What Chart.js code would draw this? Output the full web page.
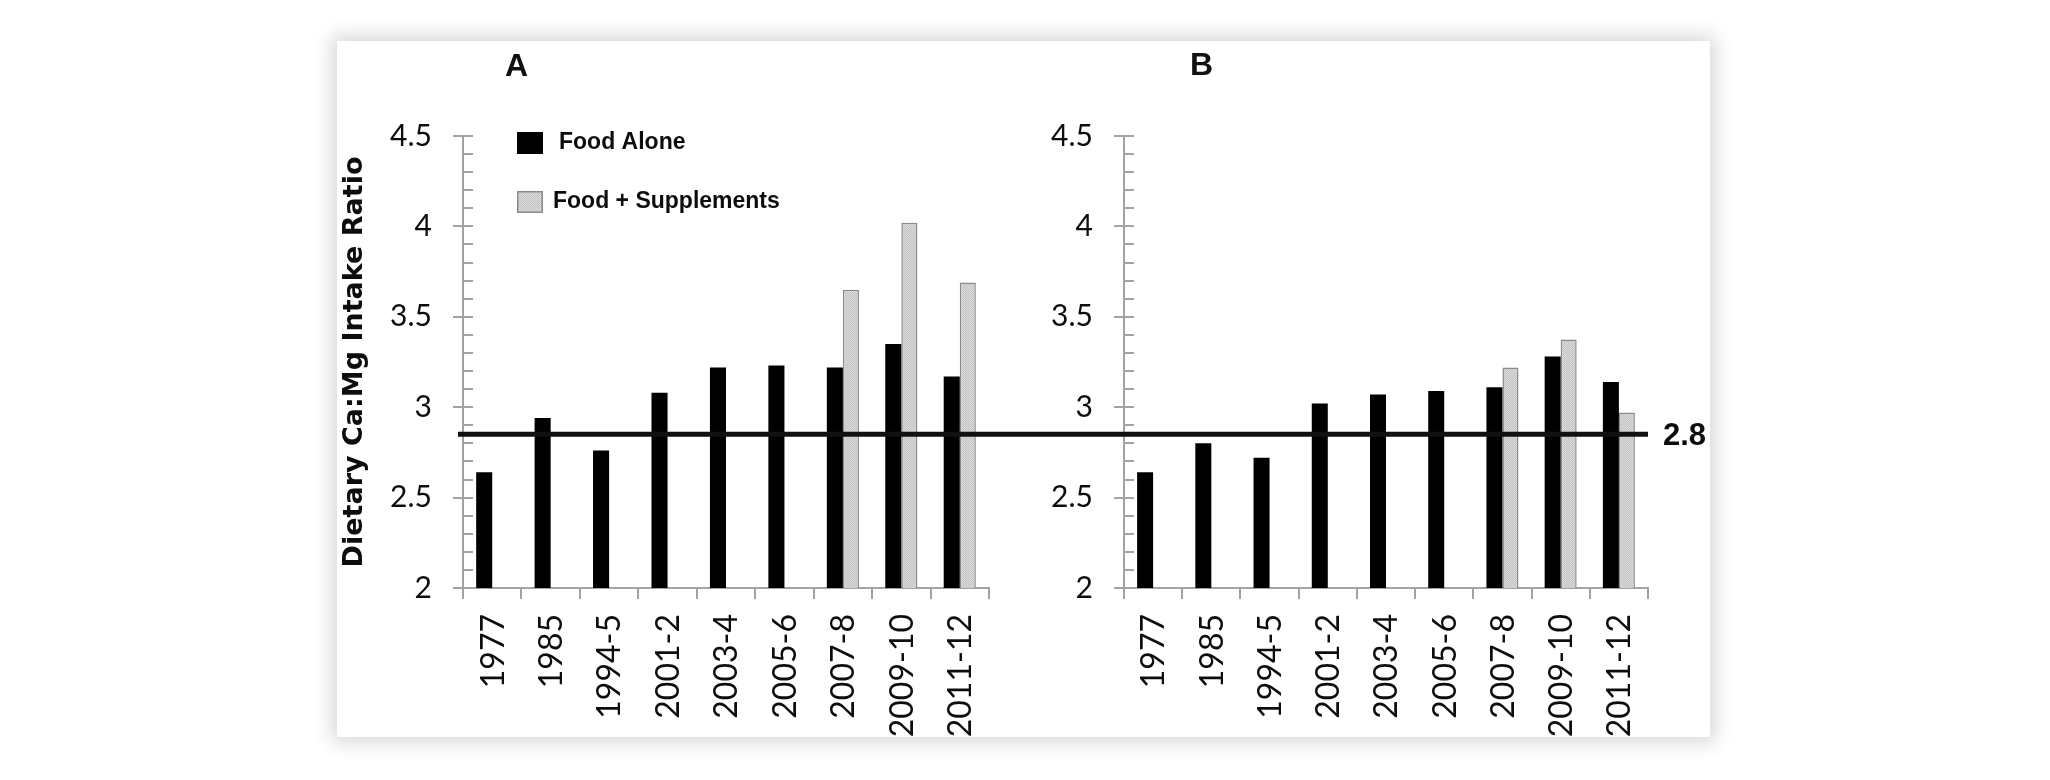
<!DOCTYPE html>
<html>
<head>
<meta charset="utf-8">
<title>Dietary Ca:Mg Intake Ratio</title>
<script src="https://cdn.jsdelivr.net/npm/chart.js"></script>
<style>
  html, body { margin: 0; padding: 0; background: #fff; }
  body { width: 2050px; height: 780px; position: relative; overflow: hidden; }
  #panel {
    position: absolute; left: 337px; top: 41px; width: 1373px; height: 696px;
    background: #fff; box-shadow: 0 0 18px 5px rgba(0,0,0,0.16); overflow: hidden;
  }
  canvas { position: absolute; top: 0; }
  #chartA { left: 0; }
  #chartB { left: 663px; }
  .tag { position: absolute; font: bold 32px "Liberation Sans", Arial, sans-serif; color: #111; }
</style>
</head>
<body>
<div id="panel">
  <canvas id="chartA" width="663" height="696"></canvas>
  <canvas id="chartB" width="710" height="696"></canvas>
  <div class="tag" style="left:168px; top:6px;">A</div>
  <div class="tag" style="left:853px; top:5px;">B</div>
</div>

<script>
  // data
  const periods = ['1977', '1985', '1994-5', '2001-2', '2003-4', '2005-6', '2007-8', '2009-10', '2011-12'];
  const foodAloneA = [2.64, 2.94, 2.76, 3.08, 3.22, 3.23, 3.22, 3.35, 3.17];
  const foodSuppA  = [null, null, null, null, null, null, 3.65, 4.02, 3.69];
  const foodAloneB = [2.64, 2.80, 2.72, 3.02, 3.07, 3.09, 3.11, 3.28, 3.14];
  const foodSuppB  = [null, null, null, null, null, null, 3.22, 3.375, 2.97];
  const seriesNames = ['Food Alone', 'Food + Supplements'];
  const refValue = 2.85;
  const refLabel = '2.8';
  const yMin = 2, yMax = 4.5, yStep = 0.5, yMinorStep = 0.1;
  const yTitle = 'Dietary Ca:Mg Intake Ratio';

  const axisGrey = '#a3a3a3';
  const ink = '#0d0d0d';

  // fine dotted grey like the original supplement bars
  function dotted() {
    const c = document.createElement('canvas');
    c.width = 2; c.height = 2;
    const g = c.getContext('2d');
    g.fillStyle = '#dadada'; g.fillRect(0, 0, 2, 2);
    g.fillStyle = '#c4c4c4'; g.fillRect(0, 0, 1, 1); g.fillRect(1, 1, 1, 1);
    return g.createPattern(c, 'repeat');
  }
  const suppFill = dotted();

  // inner half of the y ticks plus the small minor ticks
  const minorTicks = {
    id: 'minorTicks',
    afterDraw(chart) {
      const { ctx, chartArea, scales: { y } } = chart;
      ctx.save();
      ctx.strokeStyle = axisGrey;
      ctx.lineWidth = 2;
      ctx.beginPath();
      const n = Math.round((yMax - yMin) / yMinorStep);
      for (let i = 0; i <= n; i++) {
        const py = Math.round(y.getPixelForValue(yMin + i * yMinorStep));
        ctx.moveTo(chartArea.left, py);
        ctx.lineTo(chartArea.left + 10, py);
      }
      ctx.stroke();
      ctx.restore();
    }
  };

  // vertical category labels, top-aligned under the axis ticks
  const xLabels = {
    id: 'xLabels',
    afterDraw(chart) {
      const { ctx, chartArea, scales: { x } } = chart;
      ctx.save();
      ctx.fillStyle = ink;
      ctx.font = '32px Lato, "Open Sans", sans-serif';
      ctx.textAlign = 'right';
      ctx.textBaseline = 'middle';
      chart.data.labels.forEach((lab, i) => {
        ctx.save();
        ctx.translate(x.getPixelForValue(i) + 1, chartArea.bottom + 26);
        ctx.rotate(-Math.PI / 2);
        ctx.fillText(lab, 0, 0);
        ctx.restore();
      });
      ctx.restore();
    }
  };

  // horizontal reference line that runs across both panels
  const refLine = {
    id: 'refLine',
    afterDatasetsDraw(chart, args, opts) {
      const { ctx, chartArea, scales: { y } } = chart;
      const py = y.getPixelForValue(refValue);
      ctx.save();
      ctx.strokeStyle = '#111';
      ctx.lineWidth = 5;
      ctx.beginPath();
      ctx.moveTo(opts.fromEdge ? 0 : chartArea.left - 5, py);
      ctx.lineTo(opts.toEdge ? chart.width : chartArea.right, py);
      ctx.stroke();
      if (opts.label) {
        ctx.fillStyle = ink;
        ctx.font = 'bold 31px "Liberation Sans", Arial, sans-serif';
        ctx.textAlign = 'left';
        ctx.textBaseline = 'middle';
        ctx.fillText(opts.label, chartArea.right + 15, py + 2);
      }
      ctx.restore();
    }
  };

  // legend drawn inside the plot area of panel A
  const innerLegend = {
    id: 'innerLegend',
    afterDraw(chart, args, opts) {
      if (!opts.show) return;
      const { ctx, chartArea } = chart;
      ctx.save();
      ctx.font = 'bold 23px "Liberation Sans", Arial, sans-serif';
      ctx.textBaseline = 'middle';
      chart.data.datasets.forEach((ds, i) => {
        const bx = chartArea.left + 54;
        const by = chartArea.top - 4 + i * 59;
        ctx.fillStyle = ds.backgroundColor;
        ctx.fillRect(bx, by, 26, 22);
        if (ds.borderWidth) {
          ctx.strokeStyle = ds.borderColor;
          ctx.lineWidth = 1.5;
          ctx.strokeRect(bx + 0.75, by + 0.75, 24.5, 20.5);
        }
        ctx.fillStyle = ink;
        ctx.fillText(ds.label, bx + 42 - i * 6, by + 11);
      });
      ctx.restore();
    }
  };

  function makeChart(id, alone, supp, yAxisWidth, padRight, extra) {
    return new Chart(document.getElementById(id), {
      type: 'bar',
      data: {
        labels: periods,
        datasets: [
          { label: seriesNames[0], data: alone, backgroundColor: '#000', borderWidth: 0 },
          { label: seriesNames[1], data: supp, backgroundColor: suppFill, borderColor: '#8a8a8a', borderWidth: 1.5 }
        ]
      },
      options: {
        responsive: false,
        animation: false,
        devicePixelRatio: 1,
        categoryPercentage: 0.55,
        barPercentage: 1.0,
        layout: { padding: { top: 95, right: padRight, bottom: 0, left: 0 } },
        plugins: {
          legend: { display: false },
          tooltip: { enabled: false },
          refLine: extra.refLine,
          innerLegend: { show: extra.legend }
        },
        scales: {
          x: {
            grid: { display: true, offset: true, drawOnChartArea: false, tickLength: 11, color: axisGrey, lineWidth: 2 },
            border: { display: true, color: axisGrey, width: 2 },
            ticks: { display: false },
            afterFit(scale) { scale.height = 149; }
          },
          y: {
            min: yMin, max: yMax,
            grid: { drawOnChartArea: false, tickLength: 10, color: axisGrey, lineWidth: 2 },
            border: { display: true, color: axisGrey, width: 2 },
            ticks: {
              stepSize: yStep, padding: 21, color: ink,
              font: { family: 'Lato', size: 30 },
              callback: v => String(v)
            },
            title: {
              display: extra.title, text: yTitle, color: ink,
              font: { family: 'DejaVu Sans', size: 27, weight: 'bold' },
              padding: { top: 2, bottom: 0 }
            },
            afterFit(scale) { scale.width = yAxisWidth; }
          }
        }
      },
      plugins: [minorTicks, refLine, innerLegend, xLabels]
    });
  }

  makeChart('chartA', foodAloneA, foodSuppA, 126, 11,
    { title: true, legend: true, refLine: { fromEdge: false, toEdge: true } });
  makeChart('chartB', foodAloneB, foodSuppB, 124, 62,
    { title: false, legend: false, refLine: { fromEdge: true, toEdge: false, label: refLabel } });
</script>
</body>
</html>
